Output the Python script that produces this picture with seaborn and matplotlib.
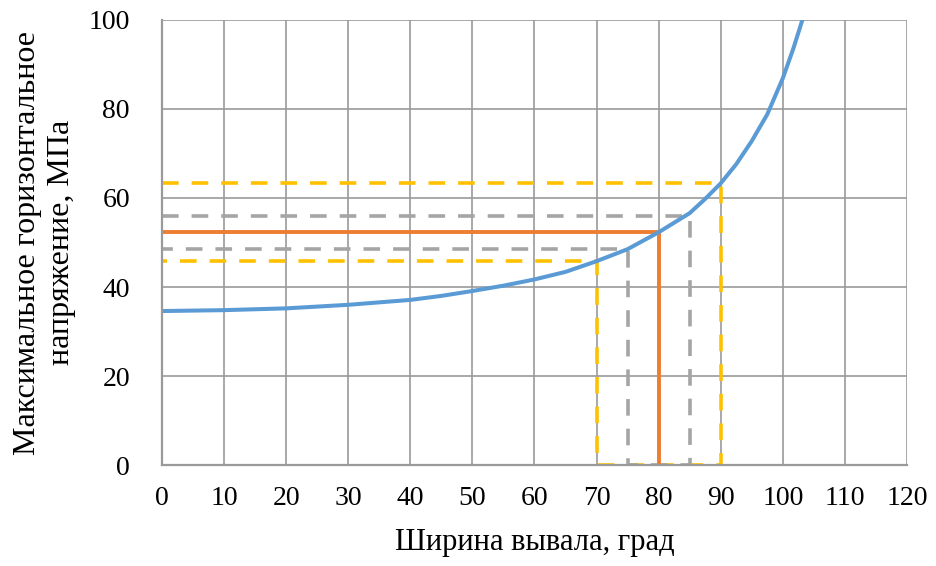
import matplotlib
matplotlib.use("Agg")
import matplotlib.pyplot as plt
import seaborn as sns
import pandas as pd

# Main curve: maximum horizontal stress vs. breakout width
width_deg = [0, 10, 20, 30, 40, 45, 50, 55, 60, 65, 70, 75, 80, 85, 87.5, 90,
             92.5, 95, 97.5, 100, 101.7, 103.15]
stress_mpa = [34.6, 34.8, 35.2, 36.0, 37.1, 38.0, 39.1, 40.3, 41.7, 43.4, 45.8, 48.5,
              52.3, 56.6, 59.8, 63.3, 67.6, 72.8, 78.8, 86.9, 93.6, 100.0]

# Reading guides: (breakout width, stress) pairs
central_width, central_stress = 80, 52.3
inner_widths, inner_stress = [75, 85], [48.5, 56.0]
outer_widths, outer_stress = [70, 90], [45.8, 63.4]

x_ticks = list(range(0, 121, 10))
y_ticks = list(range(0, 101, 20))

BLUE = "#5B9BD5"
ORANGE = "#ED7D31"
GOLD = "#FFC000"
GREY = "#A5A5A5"
GRID = "#9A9A9A"

sns.set_theme(style="white")
plt.rcParams["font.family"] = ["Liberation Serif", "DejaVu Serif"]

fig = plt.figure(figsize=(9.36, 5.66), dpi=100)
ax = fig.add_axes([0.173, 0.1784, 0.796, 0.7863])


def guide_path(widths, stresses):
    """Path from the y axis across to the curve, down to the x axis and back up."""
    lo_w, hi_w = widths
    lo_s, hi_s = stresses
    xs = [0, hi_w, hi_w, lo_w, lo_w, 0]
    ys = [hi_s, hi_s, 0, 0, lo_s, lo_s]
    return pd.DataFrame({"x": xs, "y": ys})


dash = (4.6, 3.6)
outer = guide_path(outer_widths, outer_stress)
inner = guide_path(inner_widths, inner_stress)
sns.lineplot(data=outer, x="x", y="y", sort=False, estimator=None, ax=ax,
             color=GOLD, lw=2.6, zorder=3)
ax.lines[-1].set_dashes(dash)
sns.lineplot(data=inner, x="x", y="y", sort=False, estimator=None, ax=ax,
             color=GREY, lw=2.6, zorder=3)
ax.lines[-1].set_dashes(dash)

central = pd.DataFrame({"x": [0, central_width, central_width],
                        "y": [central_stress, central_stress, 0]})
sns.lineplot(data=central, x="x", y="y", sort=False, estimator=None, ax=ax,
             color=ORANGE, lw=2.8, zorder=4)

curve = pd.DataFrame({"x": width_deg, "y": stress_mpa})
sns.lineplot(data=curve, x="x", y="y", sort=False, estimator=None, ax=ax,
             color=BLUE, lw=2.9, zorder=5)
ax.lines[-1].set_solid_joinstyle("round")

for line in ax.lines[:-1]:
    line.set_solid_capstyle("butt")
    line.set_dash_capstyle("butt")

ax.set_xlim(0, 120)
ax.set_ylim(0, 100)
ax.set_xticks(x_ticks)
ax.set_yticks(y_ticks)
ax.grid(True, color=GRID, lw=1.2)
ax.set_axisbelow(True)
for side in ("top", "right"):
    ax.spines[side].set_visible(False)
for side in ("left", "bottom"):
    ax.spines[side].set_color(GRID)
    ax.spines[side].set_linewidth(1.6)
    ax.spines[side].set_zorder(6)

ax.tick_params(axis="both", which="major", direction="out", length=6, width=1.2,
               color=GRID, labelsize=20, labelcolor="black")
ax.tick_params(axis="x", pad=9)
ax.tick_params(axis="y", pad=17)

ax.set_xlabel("Ширина вывала, град", fontsize=22, labelpad=12, color="black")
ax.set_ylabel("Максимальное горизонтальное\nнапряжение, МПа", fontsize=23,
              labelpad=9, color="black", linespacing=1.25)

fig.savefig("out.png", dpi=100)
